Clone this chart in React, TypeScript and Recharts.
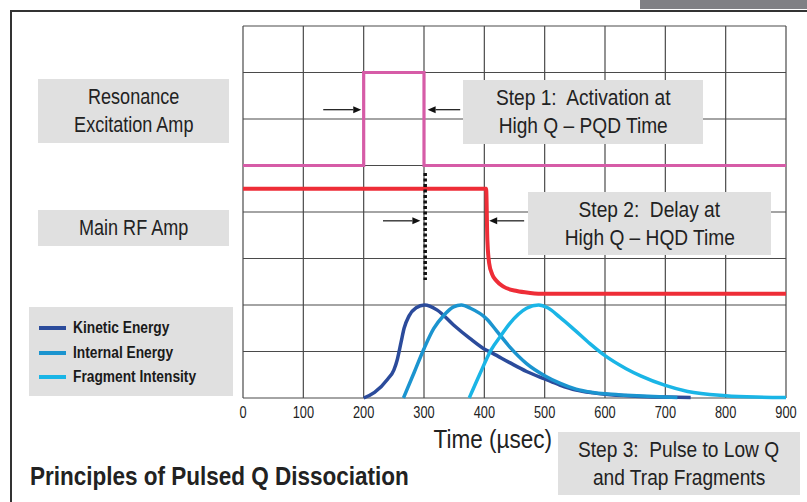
import React from "react";
import { LineChart, Line, XAxis, YAxis, CartesianGrid, ReferenceLine, Legend } from "recharts";

const FONT = '"Liberation Sans", Arial, sans-serif';

const timeTicks = [0, 100, 200, 300, 400, 500, 600, 700, 800, 900];
const levelTicks = [0, 1, 2, 3, 4, 5, 6, 7, 8];

// resonance excitation pulse (upper trace)
const resonanceAmp = [
  { t: 0, v: 5 }, { t: 200, v: 5 }, { t: 200, v: 7 },
  { t: 300, v: 7 }, { t: 300, v: 5 }, { t: 900, v: 5 },
];

// main RF amplitude, dropping after the delay
const mainRfAmp = [
  { t: 0, v: 4.5 }, { t: 403, v: 4.5 }, { t: 405, v: 3.4 }, { t: 408, v: 2.9 },
  { t: 413, v: 2.66 }, { t: 420, v: 2.52 }, { t: 431, v: 2.4 }, { t: 454, v: 2.3 },
  { t: 476, v: 2.26 }, { t: 500, v: 2.24 }, { t: 900, v: 2.24 },
];

const kineticEnergy = [
  { t: 200, v: 0 }, { t: 218, v: 0.12 }, { t: 240, v: 0.41 }, { t: 250, v: 0.6 },
  { t: 256, v: 0.84 }, { t: 262, v: 1.2 }, { t: 267, v: 1.5 }, { t: 275, v: 1.76 },
  { t: 287, v: 1.94 }, { t: 301, v: 2.0 }, { t: 322, v: 1.89 }, { t: 349, v: 1.57 },
  { t: 376, v: 1.28 }, { t: 399, v: 1.06 }, { t: 414, v: 0.96 }, { t: 442, v: 0.76 },
  { t: 470, v: 0.57 }, { t: 500, v: 0.41 }, { t: 525, v: 0.28 }, { t: 552, v: 0.17 },
  { t: 580, v: 0.11 }, { t: 600, v: 0.08 }, { t: 650, v: 0.04 }, { t: 700, v: 0.02 },
  { t: 742, v: 0.01 },
];

const internalEnergy = [
  { t: 266, v: 0 }, { t: 284, v: 0.56 }, { t: 300, v: 1.06 }, { t: 316, v: 1.49 },
  { t: 333, v: 1.78 }, { t: 349, v: 1.96 }, { t: 362, v: 2.0 }, { t: 377, v: 1.93 },
  { t: 404, v: 1.7 }, { t: 420, v: 1.45 }, { t: 442, v: 1.1 }, { t: 470, v: 0.74 },
  { t: 500, v: 0.48 }, { t: 525, v: 0.32 }, { t: 552, v: 0.19 }, { t: 580, v: 0.12 },
  { t: 600, v: 0.09 }, { t: 635, v: 0.06 }, { t: 680, v: 0.03 }, { t: 720, v: 0.01 },
];

const fragmentIntensity = [
  { t: 375, v: 0 }, { t: 392, v: 0.5 }, { t: 411, v: 1.03 }, { t: 428, v: 1.35 },
  { t: 442, v: 1.6 }, { t: 470, v: 1.93 }, { t: 490, v: 2.0 }, { t: 505, v: 1.94 },
  { t: 525, v: 1.74 }, { t: 550, v: 1.46 }, { t: 575, v: 1.17 }, { t: 600, v: 0.91 },
  { t: 635, v: 0.63 }, { t: 660, v: 0.47 }, { t: 700, v: 0.27 }, { t: 737, v: 0.14 },
  { t: 800, v: 0.05 }, { t: 850, v: 0.02 }, { t: 900, v: 0.01 },
];

const curves = [
  { key: "kinetic", name: "Kinetic Energy", color: "#2b4b9b", data: kineticEnergy },
  { key: "internal", name: "Internal Energy", color: "#1b94cf", data: internalEnergy },
  { key: "fragment", name: "Fragment Intensity", color: "#1ab5e6", data: fragmentIntensity },
];

// arrows pointing at the pulse / delay edges: [from, to]
const arrows = [
  [{ x: 133, y: 6.2 }, { x: 196, y: 6.2 }],
  [{ x: 360, y: 6.2 }, { x: 306, y: 6.2 }],
  [{ x: 232, y: 3.81 }, { x: 294, y: 3.81 }],
  [{ x: 466, y: 3.81 }, { x: 408, y: 3.81 }],
];

const Arrow = (p: any) => {
  const { x1, y1, x2, y2 } = p;
  const d = x2 > x1 ? 1 : -1;
  const len = 8;
  return (
    <g>
      <line x1={x1} y1={y1} x2={x2 - d * len} y2={y2} stroke="#111" strokeWidth={1.2} />
      <polygon points={`${x2},${y2} ${x2 - d * len},${y2 - 3.5} ${x2 - d * len},${y2 + 3.5}`} fill="#111" />
    </g>
  );
};

// narrow tick labels (condensed look)
const TimeTick = ({ x, y, payload }: any) => (
  <text
    x={0}
    y={0}
    dy="0.71em"
    textAnchor="middle"
    transform={`translate(${x},${y + 1}) scale(0.8,1)`}
    fontSize={16}
    fill="#222"
    fontFamily={FONT}
  >
    {payload.value}
  </text>
);

const Narrow = ({ s = 0.85, origin = "center", children }: any) => (
  <span style={{ display: "inline-block", transform: `scaleX(${s})`, transformOrigin: origin, whiteSpace: "pre" }}>
    {children}
  </span>
);

function LegendBox({ payload }: any) {
  const order = curves.map((c) => c.name);
  const items = (payload || [])
    .filter((e: any) => e.type !== "none" && order.includes(e.value))
    .sort((a: any, b: any) => order.indexOf(a.value) - order.indexOf(b.value));
  return (
    <div style={{ background: "#e0e0e0", width: 204, height: 89, boxSizing: "border-box", paddingTop: 9 }}>
      {items.map((e: any) => (
        <div key={e.value} style={{ display: "flex", alignItems: "center", height: 24.5 }}>
          <span style={{ display: "inline-block", width: 27, height: 4, background: e.color, marginLeft: 10, marginRight: 7 }} />
          <span style={{ fontFamily: FONT, fontWeight: "bold", fontSize: 16, color: "#1a1a1a" }}>
            <Narrow s={0.86} origin="left">{e.value}</Narrow>
          </span>
        </div>
      ))}
    </div>
  );
}

function Box({ left, top, width, height, lines, s = 0.85 }: any) {
  return (
    <div
      style={{
        position: "absolute", left, top, width, height, background: "#e0e0e0",
        display: "flex", flexDirection: "column", justifyContent: "center", alignItems: "center",
        fontFamily: FONT, fontSize: 22, lineHeight: "28px", color: "#222",
      }}
    >
      {lines.map((l: string) => <div key={l}><Narrow s={s}>{l}</Narrow></div>)}
    </div>
  );
}

export default function App() {
  return (
    <div style={{ position: "absolute", left: 0, top: 0, width: 807, height: 502, background: "#fff", overflow: "hidden" }}>
      {/* page frame */}
      <div style={{ position: "absolute", left: 640, top: 0, width: 167, height: 9, background: "#808084" }} />
      <div style={{ position: "absolute", left: 10, top: 10, width: 797, height: 2, background: "#333" }} />
      <div style={{ position: "absolute", left: 10, top: 10, width: 2, height: 492, background: "#333" }} />

      <LineChart
        width={807}
        height={502}
        margin={{ top: 26, right: 21, left: 243, bottom: 74 }}
        style={{ position: "absolute", left: 0, top: 0 }}
      >
        <CartesianGrid stroke="#4a4a4a" strokeWidth={1.2} />
        <XAxis
          dataKey="t"
          type="number"
          domain={[0, 900]}
          ticks={timeTicks}
          interval={0}
          tickLine={false}
          axisLine={false}
          height={30}
          tick={<TimeTick />}
        />
        <YAxis dataKey="v" type="number" domain={[0, 8]} ticks={levelTicks} hide />
        <Legend
          layout="vertical"
          align="center"
          verticalAlign="middle"
          content={<LegendBox />}
          wrapperStyle={{ left: 29, top: 307, width: 204, height: 89 }}
        />
        <Line data={resonanceAmp} dataKey="v" type="linear" stroke="#d65ca7" strokeWidth={3.2} dot={false} legendType="none" isAnimationActive={false} />
        <Line data={mainRfAmp} dataKey="v" type="monotone" stroke="#ee2d37" strokeWidth={4} dot={false} legendType="none" isAnimationActive={false} />
        {curves.map((c) => (
          <Line
            key={c.key}
            data={c.data}
            dataKey="v"
            name={c.name}
            type="monotone"
            stroke={c.color}
            strokeWidth={3.5}
            dot={false}
            isAnimationActive={false}
          />
        ))}
        <ReferenceLine
          segment={[{ x: 302, y: 4.84 }, { x: 302, y: 2.54 }]}
          stroke="#111"
          strokeWidth={3.5}
          strokeDasharray="3 2.5"
        />
        {arrows.map((a, i) => (
          <ReferenceLine key={i} segment={a} shape={Arrow} />
        ))}
      </LineChart>

      <Box left={38} top={79} width={191} height={64} s={0.82} lines={["Resonance", "Excitation Amp"]} />
      <Box left={38} top={210} width={191} height={36} s={0.82} lines={["Main RF Amp"]} />
      <Box left={463} top={80} width={240} height={64} s={0.87} lines={["Step 1:  Activation at", "High Q \u2013 PQD Time"]} />
      <Box left={528} top={192} width={243} height={63} s={0.87} lines={["Step 2:  Delay at", "High Q \u2013 HQD Time"]} />
      <Box left={558} top={432} width={242} height={63} s={0.87} lines={["Step 3:  Pulse to Low Q", "and Trap Fragments"]} />

      <div style={{ position: "absolute", left: 393, top: 425, width: 200, textAlign: "center", fontFamily: FONT, fontSize: 25, color: "#222" }}>
        <Narrow s={0.9}>Time (µsec)</Narrow>
      </div>
      <div style={{ position: "absolute", left: 30, top: 462, fontFamily: FONT, fontWeight: "bold", fontSize: 25, color: "#222", whiteSpace: "nowrap" }}>
        <Narrow s={0.9} origin="left">Principles of Pulsed Q Dissociation</Narrow>
      </div>
    </div>
  );
}
